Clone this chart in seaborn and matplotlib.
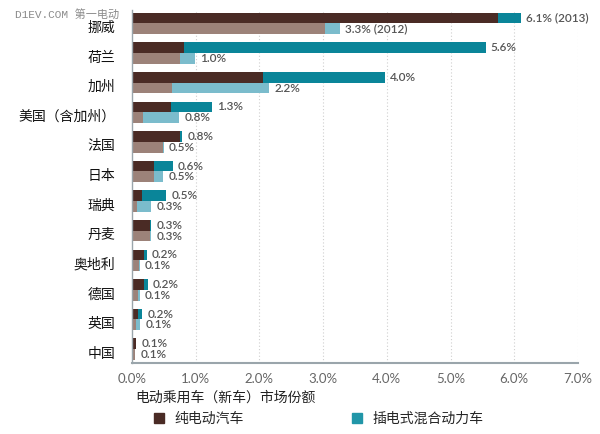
import pandas as pd
import numpy as np
import matplotlib
matplotlib.use("Agg")
import matplotlib.pyplot as plt
import matplotlib.transforms as mtransforms
import seaborn as sns
from matplotlib.lines import Line2D

# data: share of new passenger car sales (%)
countries = ['挪威', '荷兰', '加州', '美国（含加州）', '法国', '日本', '瑞典',
             '丹麦', '奥地利', '德国', '英国', '中国']
bev_2013 = [5.75, 0.82, 2.05, 0.61, 0.75, 0.35, 0.15, 0.29, 0.19, 0.19, 0.10, 0.06]
phev_2013 = [0.35, 4.73, 1.92, 0.65, 0.04, 0.29, 0.39, 0.01, 0.04, 0.06, 0.06, 0.01]
bev_2012 = [3.03, 0.75, 0.63, 0.18, 0.49, 0.35, 0.08, 0.29, 0.11, 0.10, 0.07, 0.05]
phev_2012 = [0.23, 0.24, 1.52, 0.56, 0.01, 0.14, 0.22, 0.01, 0.01, 0.02, 0.06, 0.0]
labels_2013 = ['6.1% (2013)', '5.6%', '4.0%', '1.3%', '0.8%', '0.6%', '0.5%',
               '0.3%', '0.2%', '0.2%', '0.2%', '0.1%']
labels_2012 = ['3.3% (2012)', '1.0%', '2.2%', '0.8%', '0.5%', '0.5%', '0.3%',
               '0.3%', '0.1%', '0.1%', '0.1%', '0.1%']
years = ['2013', '2012']
xticks = [0, 1, 2, 3, 4, 5, 6, 7]
legend_labels = ['纯电动汽车', '插电式混合动力车']

c_bev13, c_phev13 = '#4a2b25', '#0a8599'
c_bev12, c_phev12 = '#9c8279', '#7bbccc'

df = pd.DataFrame({
    'country': countries * 2,
    'year': ['2013'] * len(countries) + ['2012'] * len(countries),
    'bev': bev_2013 + bev_2012,
    'phev': phev_2013 + phev_2012,
})
df['total'] = df['bev'] + df['phev']

sns.set_style('white')
plt.rcParams['font.family'] = ['Lato', 'Noto Sans CJK SC', 'DejaVu Sans']
cjk = ['Noto Sans CJK SC', 'DejaVu Sans']

fig = plt.figure(figsize=(6, 4.34), dpi=100)
ax = fig.add_axes([0.22, 1 - 363 / 434, (578 - 132) / 600, (363 - 10) / 434])

sns.barplot(data=df, x='total', y='country', hue='year', hue_order=years,
            palette=[c_phev13, c_phev12], orient='h', width=0.72, dodge=True,
            saturation=1, legend=False, errorbar=None, linewidth=0, ax=ax, zorder=2)
sns.barplot(data=df, x='bev', y='country', hue='year', hue_order=years,
            palette=[c_bev13, c_bev12], orient='h', width=0.72, dodge=True,
            saturation=1, legend=False, errorbar=None, linewidth=0, ax=ax, zorder=3)

# value labels
for i in range(len(countries)):
    t13 = bev_2013[i] + phev_2013[i]
    t12 = bev_2012[i] + phev_2012[i]
    ax.text(t13 + 0.08, i - 0.18, labels_2013[i], va='center', ha='left',
            fontsize=8.5, color='#555555', fontweight='semibold')
    ax.text(t12 + 0.08, i + 0.18, labels_2012[i], va='center', ha='left',
            fontsize=8.5, color='#555555', fontweight='semibold')

ax.set_xlim(0, 7)
ax.set_ylim(11.47, -0.456)
ax.set_xticks(xticks)
ax.set_xticklabels([f'{v:.1f}%' for v in xticks], color='#666666', fontsize=9.5)
ax.set_yticks(range(len(countries)))
ax.set_yticklabels(countries, fontsize=10, color='#111111', family=cjk)
ax.tick_params(axis='both', length=0)
ax.tick_params(axis='y', pad=12)
ax.tick_params(axis='x', pad=7)
ax.set_xlabel('')
ax.set_ylabel('')
# country names sit a little below the bar pair centre
shift = mtransforms.ScaledTranslation(0, -3 / 100, fig.dpi_scale_trans)
for lab in ax.get_yticklabels():
    lab.set_transform(lab.get_transform() + shift)

for x in xticks[1:]:
    ax.axvline(x, color='#cfcfcf', lw=0.8, ls=(0, (1, 2)), zorder=1)
for s in ['top', 'right']:
    ax.spines[s].set_visible(False)
ax.spines['left'].set_color('#9aa5ab')
ax.spines['left'].set_linewidth(1.0)
ax.spines['bottom'].set_color('#9aa5ab')
ax.spines['bottom'].set_linewidth(1.5)
ax.spines['left'].set_zorder(4)

fig.text(135 / 600, 1 - 398 / 434, '电动乘用车（新车）市场份额', fontsize=10,
         color='#222222', ha='left', va='center', family=cjk)

handles = [Line2D([], [], marker='s', ls='', color=c_bev13, markersize=7.5),
           Line2D([], [], marker='s', ls='', color='#2196a8', markersize=7.5)]
fig.legend(handles, legend_labels, loc='center left', ncol=2,
           bbox_to_anchor=(138 / 600, 1 - 419 / 434), frameon=False,
           handlelength=1.2, handletextpad=0.5, columnspacing=7.6,
           prop={'family': cjk, 'size': 10})

fig.text(15 / 600, 1 - 14 / 434, 'D1EV.COM 第一电动', fontsize=8, color='#8a8a8a',
         ha='left', va='center',
         family=['Liberation Mono', 'Noto Sans CJK SC', 'DejaVu Sans'])

fig.savefig('out.png', dpi=100)
